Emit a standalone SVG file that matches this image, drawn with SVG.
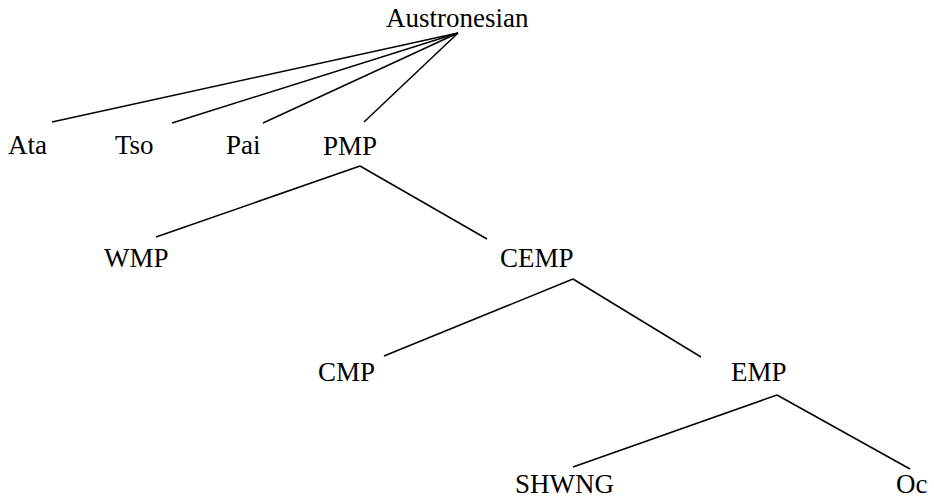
<svg xmlns="http://www.w3.org/2000/svg" width="934" height="498" viewBox="0 0 934 498">
<style>
  .lbl { font-family: 'Liberation Serif', 'Nimbus Roman', 'Times New Roman', Times, serif; font-size: 27px; fill: #000; }
  line { stroke: #000; stroke-width: 1.5; stroke-linecap: butt; }
</style>
<rect width="934" height="498" fill="#fff"/>
<g id="connectors">
  <line x1="458" y1="33" x2="52" y2="122"/>
  <line x1="458" y1="33" x2="172" y2="123"/>
  <line x1="458" y1="33" x2="263" y2="123"/>
  <line x1="458" y1="33" x2="364" y2="122"/>
  <line x1="360" y1="166" x2="156" y2="237"/>
  <line x1="360" y1="166" x2="487" y2="239"/>
  <line x1="573" y1="279" x2="384" y2="356"/>
  <line x1="573" y1="279" x2="701" y2="357"/>
  <line x1="777" y1="395" x2="573" y2="467"/>
  <line x1="777" y1="395" x2="910" y2="469"/>
</g>
<g id="austronesian"><text class="lbl" x="386" y="27">Austronesian</text></g>
<g id="ata"><text class="lbl" x="8" y="154">Ata</text></g>
<g id="tso"><text class="lbl" x="115" y="154">Tso</text></g>
<g id="pai"><text class="lbl" x="226" y="154">Pai</text></g>
<g id="pmp"><text class="lbl" x="323" y="155">PMP</text></g>
<g id="wmp"><text class="lbl" x="104" y="267">WMP</text></g>
<g id="cemp"><text class="lbl" x="500" y="267">CEMP</text></g>
<g id="cmp"><text class="lbl" x="318" y="381">CMP</text></g>
<g id="emp"><text class="lbl" x="731" y="381">EMP</text></g>
<g id="shwng"><text class="lbl" x="515" y="493">SHWNG</text></g>
<g id="oc"><text class="lbl" x="896" y="493">Oc</text></g>
</svg>
